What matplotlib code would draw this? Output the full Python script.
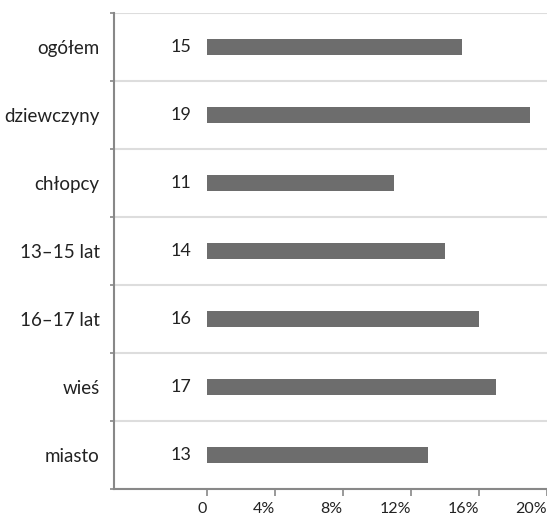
import numpy as np
import matplotlib.pyplot as plt
from matplotlib.ticker import FixedLocator, FuncFormatter

plt.rcParams['font.family'] = ['Lato', 'DejaVu Sans']

# Dane
kategorie = ["ogółem", "dziewczyny", "chłopcy", "13–15 lat", "16–17 lat", "wieś", "miasto"]
wartosci = [15, 19, 11, 14, 16, 17, 13]
ticki_x = [0, 4, 8, 12, 16, 20]

fig = plt.figure(figsize=(5.47, 5.19), dpi=100)
ax = fig.add_axes([0.2075, 0.0578, 0.792, 0.917])

y = np.arange(len(kategorie))
ax.barh(y, wartosci, height=0.24, color="#6d6d6d", zorder=3)

# Etykiety wartości po lewej stronie zera
for yi, v in zip(y, wartosci):
    ax.text(-0.9, yi, str(v), ha="right", va="center", fontsize=13, color="#222222")

ax.set_xlim(-5.49, 20)
ax.set_ylim(len(kategorie) - 0.5, -0.5)

ax.set_xticks(ticki_x)
ax.xaxis.set_major_formatter(FuncFormatter(lambda v, p: "0" if v == 0 else "%d%%" % v))
ax.tick_params(axis="x", length=5, width=1.2, color="#888888", labelsize=11.5,
               labelcolor="#222222", pad=4)
for lab in ax.get_xticklabels():
    lab.set_horizontalalignment("right")

# Granice kategorii jako główne ticki, nazwy jako pomocnicze
ax.yaxis.set_major_locator(FixedLocator(np.arange(-0.5, len(kategorie), 1.0)))
ax.yaxis.set_major_formatter(FuncFormatter(lambda v, p: ""))
ax.yaxis.set_minor_locator(FixedLocator(y))
ax.set_yticklabels(kategorie, minor=True)
ax.tick_params(axis="y", which="major", length=3, width=1.2, color="#888888")
ax.tick_params(axis="y", which="minor", length=0, labelsize=13.5, labelcolor="#222222", pad=10)

ax.grid(axis="y", which="major", color="#dddddd", linewidth=1.5, zorder=0)
ax.grid(axis="x", visible=False)

for s in ["top", "right"]:
    ax.spines[s].set_visible(False)
for s in ["left", "bottom"]:
    ax.spines[s].set_color("#888888")
    ax.spines[s].set_linewidth(1.5)

fig.savefig("out.png", dpi=100)
